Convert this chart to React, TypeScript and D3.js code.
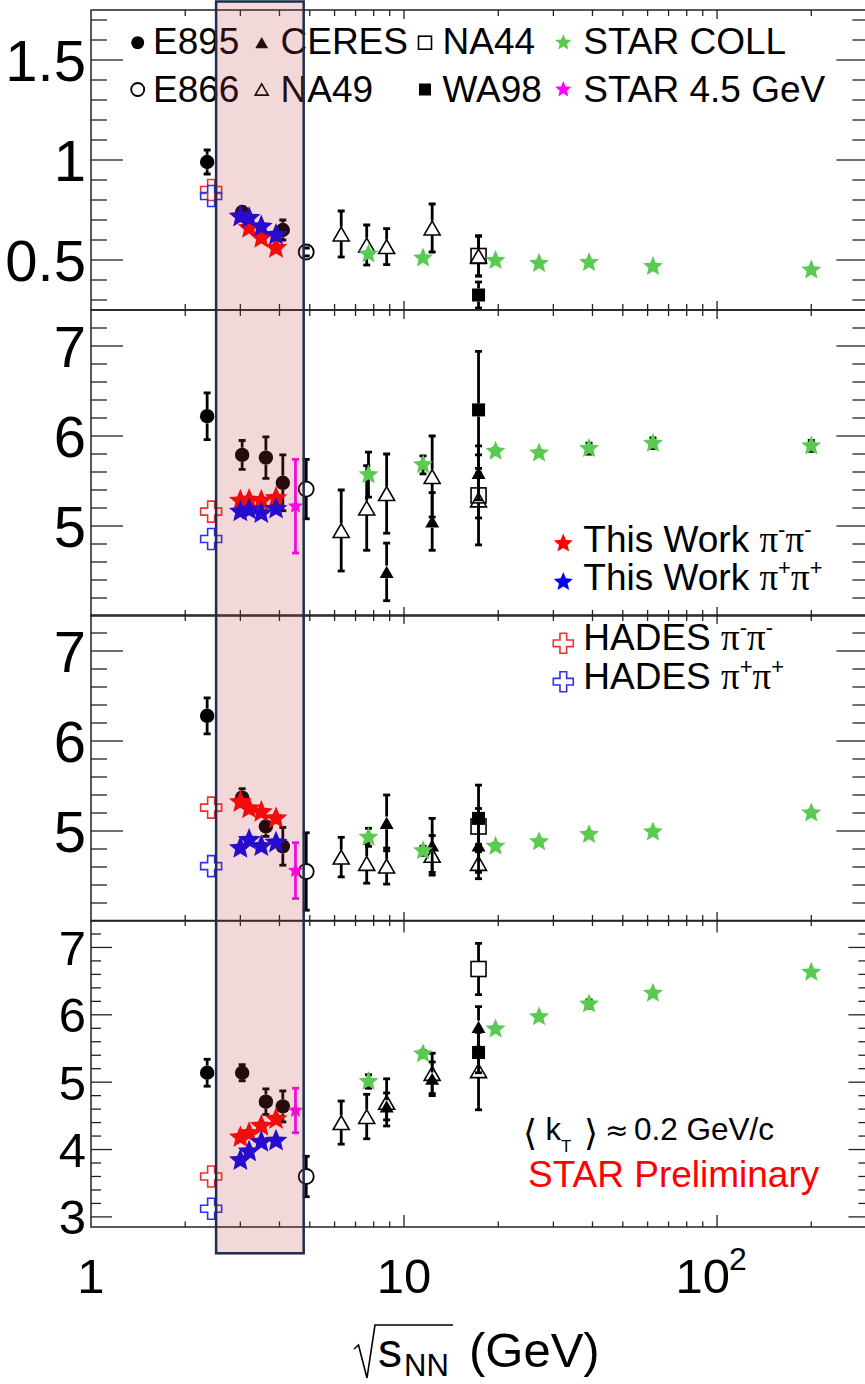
import React from 'react';
import * as d3 from 'd3';

const W = 865;
const H = 1384;

// ---- collision energies (GeV) ----
const e895Energy = [2.35, 3.04, 3.62, 4.1];
const e866Energy = [4.87];
const ceresEnergy = [8.8, 12.3, 17.3];
const na49Energy = [6.3, 7.6, 8.8, 12.3, 17.3];
const na44Energy = [17.3];
const wa98Energy = [17.3];
const hadesEnergy = [2.42];
const starCollEnergy = [7.7, 11.5, 19.6, 27, 39, 62.4, 200];
const thisWorkEnergy = [3.0, 3.2, 3.5, 3.9];
const star45Energy = [4.5];

// ---- panel 1: Rout/Rside ----
const e895Ratio = [0.99, 0.74, null, 0.65];
const e895RatioErr = [0.06, 0.02, 0, 0.05];
const e866Ratio = [0.54];
const e866RatioErr = [0.02];
const na49Ratio = [0.63, 0.575, 0.567, 0.66, 0.52];
const na49RatioErr = [0.115, 0.1, 0.09, 0.12, 0.1];
const na44Ratio = [0.52];
const na44RatioErr = [0.1];
const wa98Ratio = [0.325];
const wa98RatioErr = [0.065];
const hadesMinusRatio = [0.85];
const hadesPlusRatio = [0.82];
const starCollRatio = [0.53, 0.51, 0.497, 0.483, 0.487, 0.467, 0.45];
const thisWorkMinusRatio = [0.717, 0.66, 0.61, 0.56];
const thisWorkPlusRatio = [0.717, 0.71, 0.667, 0.625];

// ---- panel 2: Rout (fm) ----
const e895Rout = [6.22, 5.79, 5.76, 5.48];
const e895RoutErr = [0.26, 0.16, 0.23, 0.31];
const e866Rout = [5.41];
const e866RoutErr = [0.33];
const ceresRout = [4.49, 5.05, 5.59];
const ceresRoutErr = [0.32, 0.32, 0.3];
const na49Rout = [4.95, 5.2, 5.36, 5.55, 5.29];
const na49RoutErr = [0.45, 0.47, 0.44, 0.45, 0.5];
const na44Rout = [5.34];
const na44RoutErr = [0.25];
const wa98Rout = [6.29];
const wa98RoutErr = [0.65];
const hadesMinusRout = [5.16];
const hadesPlusRout = [4.855];
const starCollRout = [5.57, 5.68, 5.83, 5.81, 5.86, 5.92, 5.89];
const starCollRoutErr = [0.25, 0.1, 0.03, 0.03, 0.06, 0.06, 0.06];
const thisWorkMinusRout = [5.28, 5.29, 5.28, 5.31];
const thisWorkPlusRout = [5.16, 5.18, 5.14, 5.19];
const star45Rout = [5.22];
const star45RoutErr = [0.52];

// ---- panel 3: Rside (fm) ----
const e895Rside = [6.28, 5.37, 5.05, 4.83];
const e895RsideErr = [0.2, 0.1, 0.11, 0.21];
const e866Rside = [4.55];
const e866RsideErr = [0.43];
const ceresRside = [5.09, 4.84, 4.84];
const ceresRsideErr = [0.31, 0.3, 0.3];
const na49Rside = [4.71, 4.64, 4.61, 4.73, 4.64];
const na49RsideErr = [0.22, 0.22, 0.2, 0.22, 0.17];
const na44Rside = [5.05];
const na44RsideErr = [0.2];
const wa98Rside = [5.14];
const wa98RsideErr = [0.37];
const hadesMinusRside = [5.26];
const hadesPlusRside = [4.61];
const starCollRside = [4.93, 4.78, 4.83, 4.88, 4.96, 4.99, 5.2];
const starCollRsideErr = [0.1, 0.05, 0.03, 0.03, 0.03, 0.03, 0.03];
const thisWorkMinusRside = [5.32, 5.25, 5.21, 5.14];
const thisWorkPlusRside = [4.81, 4.9, 4.83, 4.87];
const star45Rside = [4.56];
const star45RsideErr = [0.31];

// ---- panel 4: Rlong (fm) ----
const e895Rlong = [5.14, 5.14, 4.71, 4.64];
const e895RlongErr = [0.2, 0.12, 0.19, 0.23];
const e866Rlong = [3.6];
const e866RlongErr = [0.3];
const ceresRlong = [4.64, 5.05, 5.82];
const ceresRlongErr = [0.2, 0.25, 0.3];
const na49Rlong = [4.4, 4.49, 4.7, 5.13, 5.17];
const na49RlongErr = [0.32, 0.33, 0.35, 0.3, 0.58];
const na44Rlong = [6.68];
const na44RlongErr = [0.38];
const wa98Rlong = [5.44];
const wa98RlongErr = [0.3];
const hadesMinusRlong = [3.6];
const hadesPlusRlong = [3.12];
const starCollRlong = [5.01, 5.42, 5.79, 5.97, 6.16, 6.32, 6.63];
const starCollRlongErr = [0.1, 0.05, 0.03, 0.03, 0.06, 0.03, 0.03];
const thisWorkMinusRlong = [4.18, 4.24, 4.35, 4.45];
const thisWorkPlusRlong = [3.84, 3.97, 4.11, 4.13];
const star45Rlong = [4.58];
const star45RlongErr = [0.33];

// ---- axis tick values ----
const ratioTicks = [0.5, 1, 1.5];
const radiusTicks = [5, 6, 7];
const longTicks = [3, 4, 5, 6, 7];
const xMajorTicks = [10, 100];
const xMinorTicks = [2, 3, 4, 5, 6, 7, 8, 9, 20, 30, 40, 50, 60, 70, 80, 90, 200, 300];

// ---- legend texts ----
const legendRow1 = ['E895', 'CERES', 'NA44', 'STAR COLL'];
const legendRow2 = ['E866', 'NA49', 'WA98', 'STAR 4.5 GeV'];

const GREEN = '#5acb50';
const RED = '#ff0000';
const BLUE = '#0000f0';
const MAGENTA = '#ff00ff';
const HRED = '#ee3030';
const HBLUE = '#3030ee';
const FONT = '"Liberation Sans", Arial, Helvetica, sans-serif';

const xs = d3.scaleLog().domain([1, 300]).range([91, 866.4]);
const X0 = 91;
const X1 = 866.4;

type PanelDef = {
  top: number;
  bottom: number;
  domain: [number, number];
  major: number[];
  minorStep: number;
  labelSize: number;
  yMaj: number;
  yMin: number;
  rMaj: number;
  rMin: number;
  xMaj: number;
  xMin: number;
};

const panelDefs: PanelDef[] = [
  { top: 10, bottom: 310, domain: [0.25, 1.75], major: ratioTicks, minorStep: 0.1, labelSize: 58, yMaj: 32, yMin: 16, rMaj: 30, rMin: 14, xMaj: 9, xMin: 6 },
  { top: 310, bottom: 616, domain: [4.0, 7.4], major: radiusTicks, minorStep: 0.2, labelSize: 58, yMaj: 32, yMin: 16, rMaj: 30, rMin: 14, xMaj: 9, xMin: 6 },
  { top: 615, bottom: 921, domain: [4.0, 7.4], major: radiusTicks, minorStep: 0.2, labelSize: 58, yMaj: 32, yMin: 16, rMaj: 30, rMin: 14, xMaj: 9, xMin: 6 },
  { top: 920.5, bottom: 1227, domain: [2.85, 7.4], major: longTicks, minorStep: 0.2, labelSize: 49, yMaj: 21, yMin: 10, rMaj: 18, rMin: 8, xMaj: 12, xMin: 5.5 },
];

type Series = {
  x: number[];
  y: (number | null)[];
  e?: number[];
  marker: string;
  size: number;
  color: string;
  errColor?: string;
};

const panelSeries: Series[][] = [
  [
    { x: e895Energy, y: e895Ratio, e: e895RatioErr, marker: 'dot', size: 7.2, color: '#000' },
    { x: e866Energy, y: e866Ratio, e: e866RatioErr, marker: 'odot', size: 7.5, color: '#000' },
    { x: na49Energy, y: na49Ratio, e: na49RatioErr, marker: 'otri', size: 16, color: '#000' },
    { x: na44Energy, y: na44Ratio, e: na44RatioErr, marker: 'osq', size: 15, color: '#000' },
    { x: wa98Energy, y: wa98Ratio, e: wa98RatioErr, marker: 'sq', size: 13, color: '#000' },
    { x: hadesEnergy, y: hadesMinusRatio, marker: 'cross', size: 21, color: HRED },
    { x: hadesEnergy, y: hadesPlusRatio, marker: 'cross', size: 21, color: HBLUE },
    { x: starCollEnergy, y: starCollRatio, marker: 'star', size: 10.5, color: GREEN },
    { x: thisWorkEnergy, y: thisWorkMinusRatio, marker: 'star', size: 12, color: RED },
    { x: thisWorkEnergy, y: thisWorkPlusRatio, marker: 'star', size: 12, color: BLUE },
  ],
  [
    { x: e895Energy, y: e895Rout, e: e895RoutErr, marker: 'dot', size: 7.2, color: '#000' },
    { x: e866Energy, y: e866Rout, e: e866RoutErr, marker: 'odot', size: 7.5, color: '#000' },
    { x: ceresEnergy, y: ceresRout, e: ceresRoutErr, marker: 'tri', size: 14, color: '#000' },
    { x: na49Energy, y: na49Rout, e: na49RoutErr, marker: 'otri', size: 16, color: '#000' },
    { x: na44Energy, y: na44Rout, e: na44RoutErr, marker: 'osq', size: 15, color: '#000' },
    { x: wa98Energy, y: wa98Rout, e: wa98RoutErr, marker: 'sq', size: 13, color: '#000' },
    { x: hadesEnergy, y: hadesMinusRout, marker: 'cross', size: 21, color: HRED },
    { x: hadesEnergy, y: hadesPlusRout, marker: 'cross', size: 21, color: HBLUE },
    { x: starCollEnergy, y: starCollRout, e: starCollRoutErr, marker: 'star', size: 10.5, color: GREEN, errColor: '#000' },
    { x: thisWorkEnergy, y: thisWorkMinusRout, marker: 'star', size: 12, color: RED },
    { x: thisWorkEnergy, y: thisWorkPlusRout, marker: 'star', size: 12, color: BLUE },
    { x: star45Energy, y: star45Rout, e: star45RoutErr, marker: 'star', size: 8, color: MAGENTA, errColor: MAGENTA },
  ],
  [
    { x: e895Energy, y: e895Rside, e: e895RsideErr, marker: 'dot', size: 7.2, color: '#000' },
    { x: e866Energy, y: e866Rside, e: e866RsideErr, marker: 'odot', size: 7.5, color: '#000' },
    { x: ceresEnergy, y: ceresRside, e: ceresRsideErr, marker: 'tri', size: 14, color: '#000' },
    { x: na49Energy, y: na49Rside, e: na49RsideErr, marker: 'otri', size: 16, color: '#000' },
    { x: na44Energy, y: na44Rside, e: na44RsideErr, marker: 'osq', size: 15, color: '#000' },
    { x: wa98Energy, y: wa98Rside, e: wa98RsideErr, marker: 'sq', size: 13, color: '#000' },
    { x: hadesEnergy, y: hadesMinusRside, marker: 'cross', size: 21, color: HRED },
    { x: hadesEnergy, y: hadesPlusRside, marker: 'cross', size: 21, color: HBLUE },
    { x: starCollEnergy, y: starCollRside, e: starCollRsideErr, marker: 'star', size: 10.5, color: GREEN, errColor: '#000' },
    { x: thisWorkEnergy, y: thisWorkMinusRside, marker: 'star', size: 12, color: RED },
    { x: thisWorkEnergy, y: thisWorkPlusRside, marker: 'star', size: 12, color: BLUE },
    { x: star45Energy, y: star45Rside, e: star45RsideErr, marker: 'star', size: 8, color: MAGENTA, errColor: MAGENTA },
  ],
  [
    { x: e895Energy, y: e895Rlong, e: e895RlongErr, marker: 'dot', size: 7.2, color: '#000' },
    { x: e866Energy, y: e866Rlong, e: e866RlongErr, marker: 'odot', size: 7.5, color: '#000' },
    { x: ceresEnergy, y: ceresRlong, e: ceresRlongErr, marker: 'tri', size: 14, color: '#000' },
    { x: na49Energy, y: na49Rlong, e: na49RlongErr, marker: 'otri', size: 16, color: '#000' },
    { x: na44Energy, y: na44Rlong, e: na44RlongErr, marker: 'osq', size: 15, color: '#000' },
    { x: wa98Energy, y: wa98Rlong, e: wa98RlongErr, marker: 'sq', size: 13, color: '#000' },
    { x: hadesEnergy, y: hadesMinusRlong, marker: 'cross', size: 21, color: HRED },
    { x: hadesEnergy, y: hadesPlusRlong, marker: 'cross', size: 21, color: HBLUE },
    { x: starCollEnergy, y: starCollRlong, e: starCollRlongErr, marker: 'star', size: 10.5, color: GREEN, errColor: '#000' },
    { x: thisWorkEnergy, y: thisWorkMinusRlong, marker: 'star', size: 12, color: RED },
    { x: thisWorkEnergy, y: thisWorkPlusRlong, marker: 'star', size: 12, color: BLUE },
    { x: star45Energy, y: star45Rlong, e: star45RlongErr, marker: 'star', size: 8, color: MAGENTA, errColor: MAGENTA },
  ],
];

function starPath(cx: number, cy: number, R: number): string {
  const r = R * 0.45;
  const pts: [number, number][] = [];
  for (let i = 0; i < 10; i++) {
    const a = -Math.PI / 2 + (i * Math.PI) / 5;
    const rad = i % 2 === 0 ? R : r;
    pts.push([cx + rad * Math.cos(a), cy + rad * Math.sin(a)]);
  }
  return 'M' + pts.map((p) => p[0].toFixed(2) + ',' + p[1].toFixed(2)).join('L') + 'Z';
}

function crossPath(cx: number, cy: number, s: number): string {
  const h = s / 2;
  const a = s / 6;
  const pts = [
    [-a, -h], [a, -h], [a, -a], [h, -a], [h, a], [a, a],
    [a, h], [-a, h], [-a, a], [-h, a], [-h, -a], [-a, -a],
  ];
  return 'M' + pts.map((p) => (cx + p[0]).toFixed(2) + ',' + (cy + p[1]).toFixed(2)).join('L') + 'Z';
}

function Marker({ type, cx, cy, size, color }: { type: string; cx: number; cy: number; size: number; color: string }) {
  switch (type) {
    case 'dot':
      return <circle cx={cx} cy={cy} r={size} fill={color} />;
    case 'odot':
      return <circle cx={cx} cy={cy} r={size} fill="none" stroke={color} strokeWidth={1.8} />;
    case 'tri':
    case 'otri': {
      const h = size * 0.866;
      const d = `M${cx},${cy - h / 2}L${cx + size / 2},${cy + h / 2}L${cx - size / 2},${cy + h / 2}Z`;
      return type === 'tri' ? (
        <path d={d} fill={color} />
      ) : (
        <path d={d} fill="none" stroke={color} strokeWidth={1.6} strokeLinejoin="miter" />
      );
    }
    case 'sq':
      return <rect x={cx - size / 2} y={cy - size / 2} width={size} height={size} fill={color} />;
    case 'osq':
      return <rect x={cx - size / 2} y={cy - size / 2} width={size} height={size} fill="none" stroke={color} strokeWidth={1.6} />;
    case 'cross':
      return <path d={crossPath(cx, cy, size)} fill="none" stroke={color} strokeWidth={1.6} />;
    case 'star':
      return <path d={starPath(cx, cy, size)} fill={color} />;
    default:
      return null;
  }
}

function markerHalf(type: string, size: number): number {
  if (type === 'dot' || type === 'odot' || type === 'star') return size;
  if (type === 'tri' || type === 'otri') return size * 0.45;
  return size / 2;
}

function ErrorBar({ cx, yc, yTop, yBot, gap, color }: { cx: number; yc: number; yTop: number; yBot: number; gap: number; color: string }) {
  const cap = 3.5;
  const parts: React.ReactElement[] = [];
  if (yc - gap > yTop) parts.push(<line key="u" x1={cx} x2={cx} y1={yTop} y2={yc - gap} />);
  if (yBot > yc + gap) parts.push(<line key="d" x1={cx} x2={cx} y1={yc + gap} y2={yBot} />);
  parts.push(<line key="ct" x1={cx - cap} x2={cx + cap} y1={yTop} y2={yTop} />);
  parts.push(<line key="cb" x1={cx - cap} x2={cx + cap} y1={yBot} y2={yBot} />);
  return (
    <g stroke={color} strokeWidth={2.8}>
      {parts}
    </g>
  );
}

function minorValues(def: PanelDef): number[] {
  const [d0, d1] = def.domain;
  const k0 = Math.ceil(d0 / def.minorStep - 1e-6);
  const k1 = Math.floor(d1 / def.minorStep + 1e-6);
  return d3
    .range(k0, k1 + 1)
    .map((k) => +(k * def.minorStep).toFixed(4))
    .filter((v) => !def.major.some((m) => Math.abs(m - v) < 1e-6) && v > d0 + 1e-6 && v < d1 - 1e-6);
}

function Panel({ def, series, idx }: { def: PanelDef; series: Series[]; idx: number }) {
  const ys = d3.scaleLinear().domain(def.domain).range([def.bottom, def.top]);
  const clipId = `clip-${idx}`;
  const minors = minorValues(def);
  return (
    <g>
      <defs>
        <clipPath id={clipId}>
          <rect x={X0} y={def.top} width={X1 - X0} height={def.bottom - def.top} />
        </clipPath>
      </defs>
      {/* frame */}
      <rect x={X0} y={def.top} width={X1 - X0} height={def.bottom - def.top} fill="none" stroke="#222" strokeWidth={1.5} />
      {/* y ticks, left and right */}
      <g stroke="#222" strokeWidth={1.3}>
        {def.major.map((v) => (
          <g key={'M' + v}>
            <line x1={X0} x2={X0 + def.yMaj} y1={ys(v)} y2={ys(v)} />
            <line x1={X1} x2={X1 - def.rMaj} y1={ys(v)} y2={ys(v)} />
          </g>
        ))}
        {minors.map((v) => (
          <g key={'m' + v}>
            <line x1={X0} x2={X0 + def.yMin} y1={ys(v)} y2={ys(v)} />
            <line x1={X1} x2={X1 - def.rMin} y1={ys(v)} y2={ys(v)} />
          </g>
        ))}
        {/* x ticks on top and bottom edges */}
        {xMajorTicks.map((v) => (
          <g key={'xM' + v}>
            <line x1={xs(v)} x2={xs(v)} y1={def.top} y2={def.top + def.xMaj} />
            <line x1={xs(v)} x2={xs(v)} y1={def.bottom} y2={def.bottom - def.xMaj} />
          </g>
        ))}
        {xMinorTicks.map((v) => (
          <g key={'xm' + v}>
            <line x1={xs(v)} x2={xs(v)} y1={def.top} y2={def.top + def.xMin} />
            <line x1={xs(v)} x2={xs(v)} y1={def.bottom} y2={def.bottom - def.xMin} />
          </g>
        ))}
      </g>
      {/* y tick labels */}
      <g fontFamily={FONT} fontSize={def.labelSize} textAnchor="end" fill="#000">
        {def.major.map((v) => (
          <text key={'L' + v} x={86} y={ys(v) + def.labelSize * 0.358}>
            {String(v)}
          </text>
        ))}
      </g>
      {/* data */}
      <g clipPath={`url(#${clipId})`}>
        {series.map((s, si) => (
          <g key={si}>
            {s.e &&
              s.x.map((xv, i) => {
                const yv = s.y[i];
                if (yv == null || !s.e || !s.e[i]) return null;
                return (
                  <ErrorBar
                    key={'e' + i}
                    cx={xs(xv)}
                    yc={ys(yv)}
                    yTop={ys(yv + s.e[i])}
                    yBot={ys(yv - s.e[i])}
                    gap={s.marker === 'star' ? 0 : markerHalf(s.marker, s.size)}
                    color={s.errColor || s.color}
                  />
                );
              })}
            {s.x.map((xv, i) => {
              const yv = s.y[i];
              if (yv == null) return null;
              return <Marker key={'m' + i} type={s.marker} cx={xs(xv)} cy={ys(yv)} size={s.size} color={s.color} />;
            })}
          </g>
        ))}
      </g>
    </g>
  );
}

function PiPair({ sign }: { sign: string }) {
  return (
    <>
      <tspan fontFamily='"Liberation Serif", "DejaVu Serif", serif'>π</tspan>
      <tspan fontSize={22} dy={-15}>{sign}</tspan>
      <tspan fontFamily='"Liberation Serif", "DejaVu Serif", serif' dy={15}>π</tspan>
      <tspan fontSize={22} dy={-15}>{sign}</tspan>
    </>
  );
}

export default function App() {
  const legendMarkerX = [137.7, 261.7, 425, 563.3];
  const legendTextX = [153, 280.5, 442.5, 583.3];
  const row1Markers = [
    { type: 'dot', size: 6.5, color: '#000' },
    { type: 'tri', size: 13, color: '#000' },
    { type: 'osq', size: 13, color: '#000' },
    { type: 'star', size: 8.5, color: GREEN },
  ];
  const row2Markers = [
    { type: 'odot', size: 6.5, color: '#000' },
    { type: 'otri', size: 13, color: '#000' },
    { type: 'sq', size: 12, color: '#000' },
    { type: 'star', size: 8.5, color: MAGENTA },
  ];
  return (
    <div style={{ position: 'absolute', left: 0, top: 0 }}>
      <svg width={W} height={H} viewBox={`0 0 ${W} ${H}`} style={{ display: 'block', background: '#fff' }}>
        <rect x={0} y={0} width={W} height={H} fill="#fff" />
        {panelDefs.map((def, i) => (
          <Panel key={i} def={def} series={panelSeries[i]} idx={i} />
        ))}

        {/* top legend */}
        <g fontFamily={FONT} fontSize={37} fill="#000">
          {legendRow1.map((t, i) => (
            <g key={'r1' + i}>
              <Marker type={row1Markers[i].type} cx={legendMarkerX[i]} cy={42.7} size={row1Markers[i].size} color={row1Markers[i].color} />
              <text x={legendTextX[i]} y={53.5}>{t}</text>
            </g>
          ))}
          {legendRow2.map((t, i) => (
            <g key={'r2' + i}>
              <Marker type={row2Markers[i].type} cx={legendMarkerX[i]} cy={89.5} size={row2Markers[i].size} color={row2Markers[i].color} />
              <text x={legendTextX[i]} y={101.5}>{t}</text>
            </g>
          ))}
        </g>

        {/* this work legend */}
        <g fontFamily={FONT} fontSize={37} fill="#000">
          <Marker type="star" cx={563.3} cy={543.5} size={10} color={RED} />
          <text x={583.3} y={552}>
            This Work <PiPair sign="-" />
          </text>
          <Marker type="star" cx={563.3} cy={582} size={10} color={BLUE} />
          <text x={583.3} y={590}>
            This Work <PiPair sign="+" />
          </text>
        </g>

        {/* HADES legend */}
        <g fontFamily={FONT} fontSize={37} fill="#000">
          <Marker type="cross" cx={563.3} cy={643.3} size={20} color={HRED} />
          <text x={583.3} y={650}>
            HADES <PiPair sign="-" />
          </text>
          <Marker type="cross" cx={563.3} cy={681.7} size={20} color={HBLUE} />
          <text x={583.3} y={689}>
            HADES <PiPair sign="+" />
          </text>
        </g>

        {/* kT annotation */}
        <g fontFamily={FONT} fill="#000">
          <text x={523} y={1145} fontSize={36} fontFamily='"DejaVu Sans", sans-serif'>⟨</text>
          <text x={545.5} y={1140} fontSize={31}>k</text>
          <text x={561} y={1152} fontSize={17}>T</text>
          <text x={584} y={1145} fontSize={36} fontFamily='"DejaVu Sans", sans-serif'>⟩</text>
          <text x={605} y={1140} fontSize={28} fontFamily='"DejaVu Sans", sans-serif'>≈</text>
          <text x={634} y={1140} fontSize={31.5}>0.2 GeV/c</text>
        </g>
        <text x={528} y={1187} fontFamily={FONT} fontSize={37} fill="#ff0000">
          STAR Preliminary
        </text>

        {/* x tick labels */}
        <g fontFamily={FONT} fontSize={49} fill="#000">
          <text x={xs(1)} y={1293} textAnchor="middle">1</text>
          <text x={xs(10)} y={1293} textAnchor="middle">10</text>
          <text x={xs(100) + 13} y={1293} textAnchor="end">10</text>
          <text x={xs(100) + 12} y={1270} fontSize={32}>2</text>
        </g>

        {/* x axis title */}
        <g fontFamily={FONT} fill="#000">
          <path d="M354,1349L358.5,1345L367,1378L375,1325L453,1325" fill="none" stroke="#000" strokeWidth={1.6} />
          <text x={378} y={1367} fontSize={48}>s</text>
          <text x={404} y={1376} fontSize={31}>NN</text>
          <text x={469} y={1367} fontSize={49}>(GeV)</text>
        </g>

        {/* highlighted energy range */}
        <rect
          x={xs(2.51)}
          y={1.5}
          width={xs(4.78) - xs(2.51)}
          height={1253.3 - 1.5}
          fill="rgba(190,60,60,0.2)"
          stroke="#1e2d4e"
          strokeWidth={2.5}
        />
      </svg>
    </div>
  );
}
